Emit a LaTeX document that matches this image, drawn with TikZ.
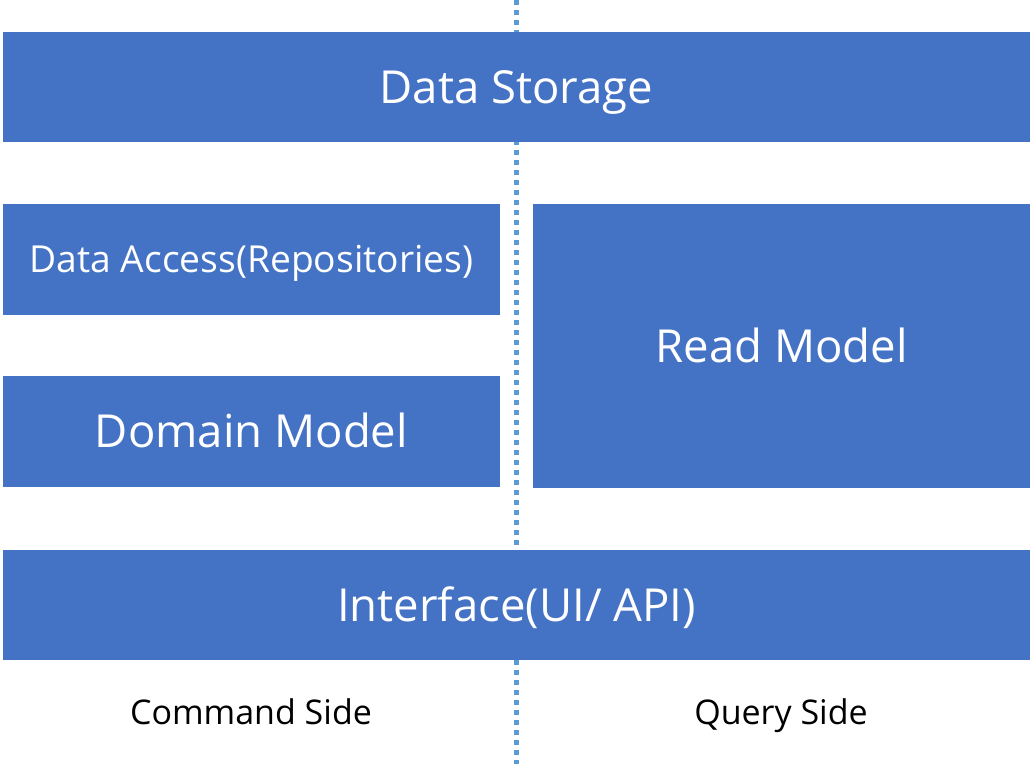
\documentclass[tikz,border=0pt]{standalone}
\usepackage{fontspec}
\setmainfont{Open Sans}
\begin{document}
\begin{tikzpicture}[x=1pt,y=-1pt,
  blk/.style={fill=blkblue,draw=none,inner sep=0pt,text=white,font=\fontsize{45.5}{50}\selectfont,text height=32.5pt,text depth=0pt},
  sidelabel/.style={font=\fontsize{34}{40}\selectfont,text=black,inner sep=0pt,text height=24.3pt,text depth=0pt}]
\definecolor{blkblue}{HTML}{4472C4}
\definecolor{divblue}{HTML}{5B9BD5}
\useasboundingbox (0,0) rectangle (1033,764);
\coordinate (top) at (516.5,0);
\coordinate (bot) at (516.5,764);
\draw[divblue,line width=5pt,dash pattern=on 5pt off 5pt] (top) -- (bot);
\node[blk,minimum width=1027pt,minimum height=110pt] (storage) at (516.5,87) {Data Storage};
\node[blk,minimum width=497pt,minimum height=111pt,font=\fontsize{37.2}{42}\selectfont,text height=26.6pt] (access) at (251.5,259.5) {Data Access(Repositories)};
\node[blk,minimum width=497pt,minimum height=111pt] (domain) at (251.5,431.5) {Domain Model};
\node[blk,minimum width=497pt,minimum height=284pt] (read) at (781.5,346) {Read Model};
\node[blk,minimum width=1027pt,minimum height=110pt] (iface) at (516.5,605) {Interface(UI/ API)};
\node[sidelabel] (cmd) at (251,712) {Command Side};
\node[sidelabel] (qry) at (781,712) {Query Side};
\end{tikzpicture}
\end{document}
